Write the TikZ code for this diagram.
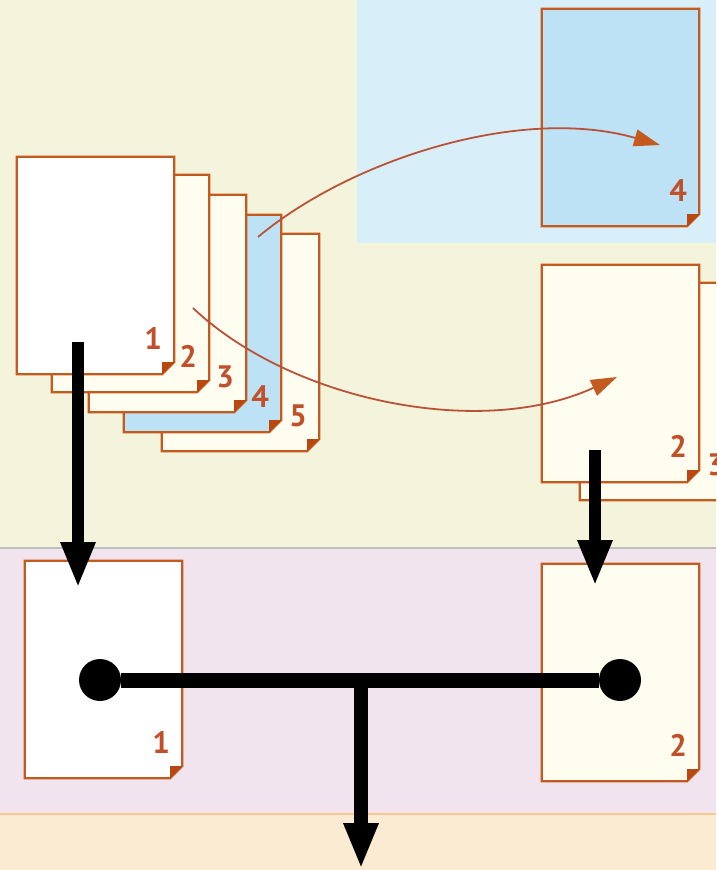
\documentclass[tikz,border=0pt]{standalone}
\usepackage{fontspec}
\newfontfamily\numfont{PT Sans}
\usetikzlibrary{arrows.meta}
\definecolor{edge}{HTML}{C45A1E}
\definecolor{numcol}{HTML}{C0502A}
\definecolor{foldcol}{HTML}{B8480F}
\definecolor{flowcol}{HTML}{BA5238}
\definecolor{bgtop}{HTML}{F4F4DC}
\definecolor{bgblue}{HTML}{D8EEF9}
\definecolor{bgpink}{HTML}{F2E4EE}
\definecolor{bgpeach}{HTML}{FCEBD3}
\definecolor{cream}{HTML}{FFFDF0}
\definecolor{paleblue}{HTML}{BDE2F6}
\tikzset{
  page/.style={minimum width=157pt, minimum height=217pt, inner sep=0pt},
  pagenum/.style={font=\numfont\bfseries\fontsize{31}{31}\selectfont, text=numcol, inner sep=0pt, anchor=base east},
  flow/.style={draw=flowcol, line width=1.8pt, -{Triangle[length=26pt,width=17pt,color=edge]}},
  bigarrow/.style={line width=12pt, -{Triangle[length=46pt,width=32pt]}},
  dot/.style={circle, fill=black, minimum size=42pt, inner sep=0pt},
}
% one sheet: name, centre, fill, number
\newcommand\docpage[4]{%
  \node[page] (#1) at (#2) {};
  \filldraw[fill=#3, draw=edge, line width=2.2pt]
    (#1.north west) -- (#1.north east) -- ([yshift=12pt]#1.south east)
    -- ([xshift=-12pt]#1.south east) -- (#1.south west) -- cycle;
  \fill[foldcol] ([xshift=-12pt]#1.south east) -- ([yshift=12pt]#1.south east)
    -- ([shift={(-12pt,12pt)}]#1.south east) -- cycle;
  \node[pagenum] (#1-num) at ([shift={(-12pt,25pt)}]#1.south east) {#4};
}
\begin{document}
\begin{tikzpicture}[x=1pt, y=-1pt]
\useasboundingbox (0,0) rectangle (716,870);
\clip (0,0) rectangle (716,870);
% bands
\fill[bgtop] (0,0) rectangle (716,548);
\fill[bgblue] (357,0) rectangle (716,243);
\fill[bgpink] (0,548) rectangle (716,814);
\fill[bgpeach] (0,814) rectangle (716,870);
\draw[black!25, line width=2pt] (0,548) -- (716,548);
\draw[orange!45, line width=2pt] (0,814) -- (716,814);
% stack of five
\docpage{s5}{240.5,342.5}{cream}{5}
\docpage{s4}{202.5,323.5}{paleblue}{4}
\docpage{s3}{167.5,303.5}{cream}{3}
\docpage{s2}{130.5,283.5}{cream}{2}
\docpage{s1}{95.5,265.5}{white}{1}
% right column
\docpage{r4}{620.5,117.5}{paleblue}{4}
\docpage{r3}{658.5,391.5}{cream}{3}
\docpage{r2}{620.5,373.5}{cream}{2}
% bottom row
\docpage{b1}{103.5,669.5}{white}{1}
\docpage{b2}{620.5,672.5}{cream}{2}
% moves
\coordinate (c4) at (258,237);
\coordinate (c4end) at (660,145);
\coordinate (c2) at (193,308);
\coordinate (c2end) at (617,377);
\draw[flow] (c4) .. controls (350,160) and (520,105) .. (c4end);
\draw[flow] (c2) .. controls (290,400) and (480,440) .. (c2end);
% down to the bottom row
\coordinate (d1) at (78,342);
\coordinate (d1end) at (78,588);
\coordinate (d2) at (595,450);
\coordinate (d2end) at (595,586);
\draw[bigarrow] (d1) -- (d1end);
\draw[bigarrow] (d2) -- (d2end);
% join
\node[dot] (dl) at (100,680) {};
\node[dot] (dr) at (620,680) {};
\draw[line width=15pt] (dl) -- (dr);
\coordinate (j) at (361,680);
\coordinate (out) at (361,869);
\draw[bigarrow, line width=14pt] ([yshift=7pt]j) -- (out);
\end{tikzpicture}
\end{document}
